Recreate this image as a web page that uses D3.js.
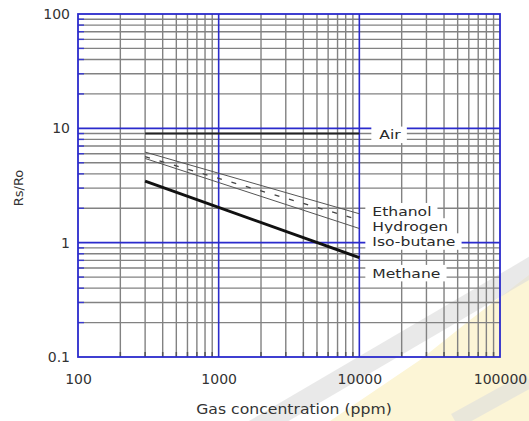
<!DOCTYPE html>
<html>
<head>
<meta charset="utf-8">
<script src="https://cdn.jsdelivr.net/npm/d3@7"></script>
<style>
  html, body { margin: 0; padding: 0; background: #fff; }
  svg { display: block; font-family: "DejaVu Sans", Verdana, sans-serif; }
</style>
</head>
<body>
<svg id="chart" width="529" height="421"></svg>
<script>
// ---- data ----
const concentration = [300, 10000];               // ppm, start and end of each curve
const gases = ["Air", "Ethanol", "Hydrogen", "Iso-butane", "Methane"];
const airValues = [9, 9];
const ethanolValues = [6.2, 1.79];
const hydrogenValues = [5.65, 1.58];
const isobutaneValues = [5.45, 1.33];
const methaneValues = [3.45, 0.74];
const xTickLabels = [100, 1000, 10000, 100000];
const yTickLabels = [0.1, 1, 10, 100];
const xTitle = "Gas concentration (ppm)";
const yTitle = "Rs/Ro";
// label anchor values (data units) for the right-hand labels
const labelValues = [8.8, 1.89, 1.39, 1.026, 0.543];

const series = [
  { name: "Air", values: airValues, color: "#222", width: 2, dash: null },
  { name: "Ethanol", values: ethanolValues, color: "#555", width: 1, dash: null },
  { name: "Hydrogen", values: hydrogenValues, color: "#444", width: 1.3, dash: "5,10" },
  { name: "Iso-butane", values: isobutaneValues, color: "#555", width: 1, dash: null },
  { name: "Methane", values: methaneValues, color: "#111", width: 3, dash: null }
];

const svg = d3.select("#chart");
const W = 529, H = 421;
const m = { left: 78, right: 29, top: 14, bottom: 64 };

const x = d3.scaleLog().domain([100, 100000]).range([m.left, W - m.right]);
const y = d3.scaleLog().domain([0.1, 100]).range([H - m.bottom, m.top]);

// ---- faint watermark in background ----
const bg = svg.append("g");
bg.append("polygon")
  .attr("points", "330,421 529,421 529,275 470,320 420,360")
  .attr("fill", "#fcf5d6");
bg.append("line")
  .attr("x1", 250).attr("y1", 432).attr("x2", 540).attr("y2", 262)
  .attr("stroke", "#dcdcdc").attr("stroke-width", 20).attr("opacity", 0.6);
bg.append("line")
  .attr("x1", 455).attr("y1", 421).attr("x2", 529).attr("y2", 380)
  .attr("stroke", "#dedede").attr("stroke-width", 16).attr("opacity", 0.6);

// ---- grid ----
const grid = svg.append("g");
const xMinor = [], yMinor = [];
[100, 1000, 10000].forEach(d => { for (let k = 2; k <= 9; k++) xMinor.push(k * d); });
[0.1, 1, 10].forEach(d => { for (let k = 2; k <= 9; k++) yMinor.push(+(k * d).toPrecision(3)); });

grid.selectAll(".vx").data(xMinor).join("line")
  .attr("x1", d => x(d)).attr("x2", d => x(d))
  .attr("y1", y(100)).attr("y2", y(0.1))
  .attr("stroke", "#828282").attr("stroke-width", 1.4);
grid.selectAll(".hy").data(yMinor).join("line")
  .attr("x1", x(100)).attr("x2", x(100000))
  .attr("y1", d => y(d)).attr("y2", d => y(d))
  .attr("stroke", "#828282").attr("stroke-width", 1.4);
grid.selectAll(".ty").data(yMinor).join("line")
  .attr("x1", x(100)).attr("x2", x(100) + 6)
  .attr("y1", d => y(d)).attr("y2", d => y(d))
  .attr("stroke", "#3a3ad0").attr("stroke-width", 1.4);
grid.selectAll(".tx").data(xMinor).join("line")
  .attr("x1", d => x(d)).attr("x2", d => x(d))
  .attr("y1", y(0.1)).attr("y2", y(0.1) - 5)
  .attr("stroke", "#555").attr("stroke-width", 1.5);

grid.selectAll(".mx").data([1000, 10000]).join("line")
  .attr("x1", d => x(d)).attr("x2", d => x(d))
  .attr("y1", y(100)).attr("y2", y(0.1))
  .attr("stroke", "#2b2bcc").attr("stroke-width", 1.6);
grid.selectAll(".my").data([1, 10]).join("line")
  .attr("x1", x(100)).attr("x2", x(100000))
  .attr("y1", d => y(d)).attr("y2", d => y(d))
  .attr("stroke", "#2b2bcc").attr("stroke-width", 1.6);
grid.append("rect")
  .attr("x", x(100)).attr("y", y(100))
  .attr("width", x(100000) - x(100)).attr("height", y(0.1) - y(100))
  .attr("fill", "none").attr("stroke", "#2b2bcc").attr("stroke-width", 1.8);

// ---- curves ----
const line = d3.line().x(d => x(d[0])).y(d => y(d[1]));
svg.append("g").selectAll("path").data(series).join("path")
  .attr("d", s => line(concentration.map((c, i) => [c, s.values[i]])))
  .attr("fill", "none")
  .attr("stroke", s => s.color)
  .attr("stroke-width", s => s.width)
  .attr("stroke-dasharray", s => s.dash);

// ---- labels with white boxes (text stretched horizontally like the scan) ----
const SX = 1.2;
const lab = svg.append("g");
gases.forEach((g, i) => {
  const gx = i === 0 ? x(10000) + 20 : x(10000) + 13;
  const gy = y(labelValues[i]);
  const grp = lab.append("g").attr("transform", `translate(${gx},${gy}) scale(${SX},1)`);
  const t = grp.append("text").attr("x", 0).attr("y", 0).attr("dy", "0.36em")
    .attr("font-size", 13).attr("fill", "#2a2a2a").text(g);
  const bb = t.node().getBBox();
  const padL = (i === 0 ? 8 : 7) / SX, padR = 6 / SX;
  grp.insert("rect", "text")
    .attr("x", bb.x - padL).attr("y", bb.y - 1)
    .attr("width", bb.width + padL + padR).attr("height", bb.height + 2)
    .attr("fill", "#fff");
});

// ---- axes (labels only) ----
const axX = svg.append("g")
  .attr("transform", `translate(0,${y(0.1)})`)
  .call(d3.axisBottom(x).tickValues(xTickLabels).tickFormat(d3.format("d")).tickSize(0).tickPadding(17));
const axY = svg.append("g")
  .attr("transform", `translate(${x(100)},0)`)
  .call(d3.axisLeft(y).tickValues(yTickLabels).tickFormat(d => String(d)).tickSize(0).tickPadding(8));
[axX, axY].forEach(a => {
  a.select(".domain").remove();
  a.selectAll("text").attr("font-size", 14).attr("fill", "#333")
    .attr("font-family", "'DejaVu Sans', Verdana, sans-serif");
});

svg.append("text")
  .attr("transform", "translate(294,414) scale(1.16,1)")
  .attr("text-anchor", "middle").attr("font-size", 13.5).attr("fill", "#333")
  .text(xTitle);
svg.append("text")
  .attr("transform", "translate(23,188) rotate(-90)")
  .attr("text-anchor", "middle").attr("font-size", 13).attr("fill", "#333")
  .text(yTitle);
</script>
</body>
</html>
